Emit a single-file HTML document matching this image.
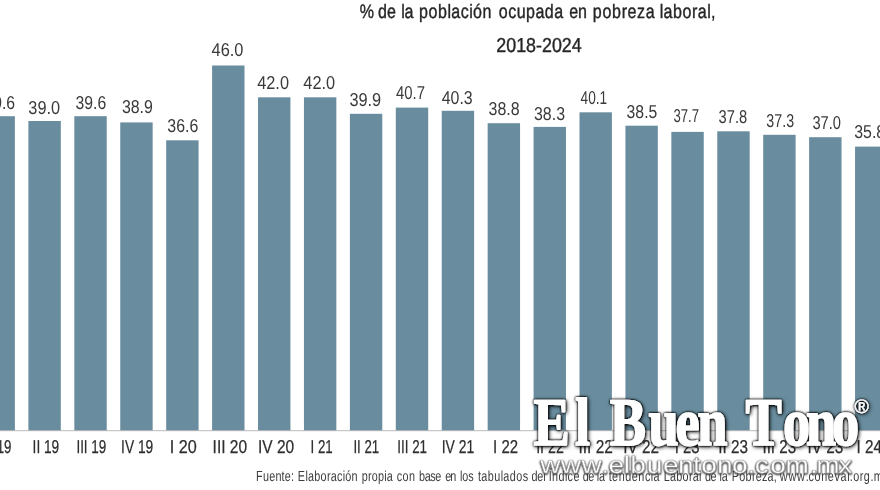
<!DOCTYPE html>
<html lang="es"><head><meta charset="utf-8"><title>Pobreza laboral 2018-2024</title>
<style>
html,body{margin:0;padding:0;background:#fff;}
body{width:880px;height:490px;overflow:hidden;}
svg{display:block;text-rendering:geometricPrecision;will-change:transform;transform:translateZ(0);font-family:"Liberation Sans",sans-serif;}
.v{font-size:18.6px;fill:#3a3a3a;}
.l{font-size:18.6px;fill:#2e2e2e;stroke:#2e2e2e;stroke-width:0.25;}
.t{font-size:19.5px;fill:#262626;stroke:#262626;stroke-width:0.4;text-anchor:middle;}
.f{font-size:14.6px;fill:#3c3c3c;}
.wm{font-family:"Liberation Serif",serif;font-weight:bold;font-size:68px;fill:#fff;stroke:#fff;stroke-width:1.5;stroke-linejoin:round;}
.url{font-size:24px;fill:#fff;stroke:#888;stroke-width:0.35;}
</style></head><body>
<svg width="880" height="490" viewBox="0 0 880 490">
<defs>
<filter id="sh" x="-5%" y="-20%" width="110%" height="150%">
<feGaussianBlur in="SourceAlpha" stdDeviation="2" result="b"/>
<feOffset in="b" dx="1.2" dy="1.4" result="o"/>
<feComponentTransfer in="o" result="d"><feFuncA type="linear" slope="1.5"/></feComponentTransfer>
<feFlood flood-color="#000" flood-opacity="0.7"/><feComposite in2="d" operator="in" result="s"/>
<feGaussianBlur in="SourceAlpha" stdDeviation="0.9" result="b2"/>
<feComponentTransfer in="b2" result="d2"><feFuncA type="linear" slope="2.5"/></feComponentTransfer>
<feFlood flood-color="#000" flood-opacity="0.65"/><feComposite in2="d2" operator="in" result="s2"/>
<feMerge><feMergeNode in="s"/><feMergeNode in="s2"/><feMergeNode in="SourceGraphic"/></feMerge>
</filter>
<filter id="sh2" x="-5%" y="-30%" width="110%" height="170%">
<feGaussianBlur in="SourceAlpha" stdDeviation="1.15" result="b"/>
<feOffset in="b" dx="0.3" dy="0.5" result="o"/>
<feComponentTransfer in="o" result="d"><feFuncA type="linear" slope="2.6"/></feComponentTransfer>
<feFlood flood-color="#3c3c3c" flood-opacity="0.68"/><feComposite in2="d" operator="in" result="s"/>
<feMerge><feMergeNode in="s"/><feMergeNode in="SourceGraphic"/></feMerge>
</filter>
</defs>
<rect width="880" height="490" fill="#fff"/>

<rect x="-17.53" y="116.2" width="32.4" height="314.3" fill="#698d9f"/>
<text class="v" transform="translate(-15.60 108.5) scale(0.848 1)">39.6</text>
<text class="l" transform="translate(-10.70 453.3) scale(0.715 1)">I 19</text>
<rect x="28.40" y="121.0" width="32.4" height="309.5" fill="#698d9f"/>
<text class="v" transform="translate(28.30 113.6) scale(0.878 1)">39.0</text>
<text class="l" transform="translate(32.60 453.3) scale(0.735 1)">II 19</text>
<rect x="74.33" y="116.2" width="32.4" height="314.3" fill="#698d9f"/>
<text class="v" transform="translate(75.55 108.5) scale(0.848 1)">39.6</text>
<text class="l" transform="translate(76.40 453.3) scale(0.723 1)">III 19</text>
<rect x="120.25" y="122.4" width="32.4" height="308.1" fill="#698d9f"/>
<text class="v" transform="translate(121.90 113.0) scale(0.856 1)">38.9</text>
<text class="l" transform="translate(121.10 453.3) scale(0.741 1)">IV 19</text>
<rect x="166.18" y="140.3" width="32.4" height="290.2" fill="#698d9f"/>
<text class="v" transform="translate(167.30 132.1) scale(0.856 1)">36.6</text>
<text class="l" transform="translate(169.70 453.3) scale(0.870 1)">I 20</text>
<rect x="212.10" y="65.5" width="32.4" height="365.0" fill="#698d9f"/>
<text class="v" transform="translate(211.55 55.6) scale(0.881 1)">46.0</text>
<text class="l" transform="translate(212.60 453.3) scale(0.834 1)">III 20</text>
<rect x="258.02" y="97.3" width="32.4" height="333.2" fill="#698d9f"/>
<text class="v" transform="translate(257.20 88.6) scale(0.878 1)">42.0</text>
<text class="l" transform="translate(258.00 453.3) scale(0.833 1)">IV 20</text>
<rect x="303.95" y="97.3" width="32.4" height="333.2" fill="#698d9f"/>
<text class="v" transform="translate(303.30 89.4) scale(0.878 1)">42.0</text>
<text class="l" transform="translate(310.50 453.3) scale(0.715 1)">I 21</text>
<rect x="349.88" y="113.8" width="32.4" height="316.7" fill="#698d9f"/>
<text class="v" transform="translate(349.40 105.7) scale(0.878 1)">39.9</text>
<text class="l" transform="translate(353.40 453.3) scale(0.713 1)">II 21</text>
<rect x="395.80" y="107.6" width="32.4" height="322.9" fill="#698d9f"/>
<text class="v" transform="translate(396.00 99.4) scale(0.801 1)">40.7</text>
<text class="l" transform="translate(397.20 453.3) scale(0.723 1)">III 21</text>
<rect x="441.73" y="110.8" width="32.4" height="319.7" fill="#698d9f"/>
<text class="v" transform="translate(441.70 103.8) scale(0.856 1)">40.3</text>
<text class="l" transform="translate(441.70 453.3) scale(0.750 1)">IV 21</text>
<rect x="487.65" y="123.2" width="32.4" height="307.3" fill="#698d9f"/>
<text class="v" transform="translate(488.60 114.5) scale(0.859 1)">38.8</text>
<text class="l" transform="translate(493.10 453.3) scale(0.805 1)">I 22</text>
<rect x="533.57" y="126.9" width="32.4" height="303.6" fill="#698d9f"/>
<text class="v" transform="translate(534.00 119.8) scale(0.856 1)">38.3</text>
<text class="l" transform="translate(536.15 453.3) scale(0.765 1)">II 22</text>
<rect x="579.50" y="112.3" width="32.4" height="318.2" fill="#698d9f"/>
<text class="v" transform="translate(580.60 104.0) scale(0.735 1)">40.1</text>
<text class="l" transform="translate(578.45 453.3) scale(0.834 1)">III 22</text>
<rect x="625.42" y="125.7" width="32.4" height="304.8" fill="#698d9f"/>
<text class="v" transform="translate(626.60 117.9) scale(0.848 1)">38.5</text>
<text class="l" transform="translate(623.20 453.3) scale(0.824 1)">IV 22</text>
<rect x="671.35" y="131.9" width="32.4" height="298.6" fill="#698d9f"/>
<text class="v" transform="translate(673.45 122.2) scale(0.704 1)">37.7</text>
<text class="l" transform="translate(674.70 453.3) scale(0.799 1)">I 23</text>
<rect x="717.27" y="131.3" width="32.4" height="299.2" fill="#698d9f"/>
<text class="v" transform="translate(718.60 122.9) scale(0.790 1)">37.8</text>
<text class="l" transform="translate(718.35 453.3) scale(0.820 1)">II 23</text>
<rect x="763.20" y="134.8" width="32.4" height="295.7" fill="#698d9f"/>
<text class="v" transform="translate(766.30 127.4) scale(0.768 1)">37.3</text>
<text class="l" transform="translate(762.45 453.3) scale(0.815 1)">III 23</text>
<rect x="809.12" y="137.2" width="32.4" height="293.3" fill="#698d9f"/>
<text class="v" transform="translate(812.40 128.9) scale(0.790 1)">37.0</text>
<text class="l" transform="translate(807.40 453.3) scale(0.824 1)">IV 23</text>
<rect x="855.05" y="146.6" width="32.4" height="283.9" fill="#698d9f"/>
<text class="v" transform="translate(854.20 138.4) scale(0.856 1)">35.8</text>
<text class="l" transform="translate(856.50 453.3) scale(0.821 1)">I 24</text>
<line x1="0" x2="880" y1="430.7" y2="430.7" stroke="#a8a8a8" stroke-width="0.8"/>
<text class="t" transform="scale(0.8224 1)" y="17.9" x="437.41 454.78 459.57 470.51 482.63 487.83 491.75 503.30 509.59 521.09 532.59 544.08 548.68 560.18 570.51 575.10 586.60 599.00 606.59 617.99 628.23 639.63 651.03 662.43 673.83 686.19 692.23 702.74 714.64 720.80 732.51 744.22 755.93 762.94 774.65 785.18 797.69 802.25 806.87 818.41 829.96 841.51 848.43 859.97 864.59" style="text-anchor:start">% de la población ocupada en pobreza laboral,</text>
<text class="t" style="font-size:20.2px" transform="translate(539 52) scale(0.885 1)">2018-2024</text>
<text class="f" transform="scale(0.7414 1)" y="481.2" x="345.39 354.62 363.03 371.44 379.84 384.04 392.45 397.92 401.77 411.99 415.40 423.92 432.45 440.97 446.07 454.60 462.26 465.66 474.19 483.84 487.90 496.31 501.35 509.77 518.19 521.55 531.19 535.14 542.96 551.65 561.41 565.30 572.85 580.39 587.17 596.34 600.69 607.23 615.90 620.29 623.48 631.46 640.05 644.77 649.15 657.90 666.66 675.41 678.91 687.66 696.42 705.17 714.10 716.77 724.75 732.72 737.30 740.07 744.47 753.27 762.07 765.59 773.50 783.30 786.06 793.48 802.59 805.02 808.05 817.29 821.16 825.59 834.44 843.29 852.14 860.99 869.85 877.80 881.34 891.21 895.19 903.69 912.19 920.69 929.19 934.28 942.79 947.46 950.96 958.24 967.28 970.57 973.52 982.66 987.08 997.24 1005.70 1014.17 1019.25 1027.72 1035.33 1043.80 1049.30 1051.78 1063.48 1075.17 1086.86 1090.47 1098.56 1107.57 1116.57 1125.58 1133.68 1142.68 1146.28 1150.78 1159.78 1165.17 1174.18 1178.68 1192.16">Fuente: Elaboración propia con base en los tabulados del Índice de la tendencia Laboral de la Pobreza, www.coneval.org.mx</text>
<g filter="url(#sh)">
<text class="wm" transform="scale(0.8 1)" y="445" x="667.01 718.67 738.75 762.33 810.66 844.34 871.41 908.62 931.89 978.62 1007.60 1040.12">El Buen Tono</text>
<text x="854.4" y="413.2" font-size="19.5" fill="#fff" stroke="#fff" stroke-width="0.3">®</text>
</g>
<g filter="url(#sh2)">
<text class="url" transform="scale(1.17 1)" y="473.3" x="461.71 479.36 497.01 514.11 520.12 533.09 538.71 552.68 566.57 579.52 592.27 599.39 612.73 625.63 638.98 645.15 658.37 671.37 692.62 697.74 716.39">www.elbuentono.com.mx</text>
</g>
</svg></body></html>
